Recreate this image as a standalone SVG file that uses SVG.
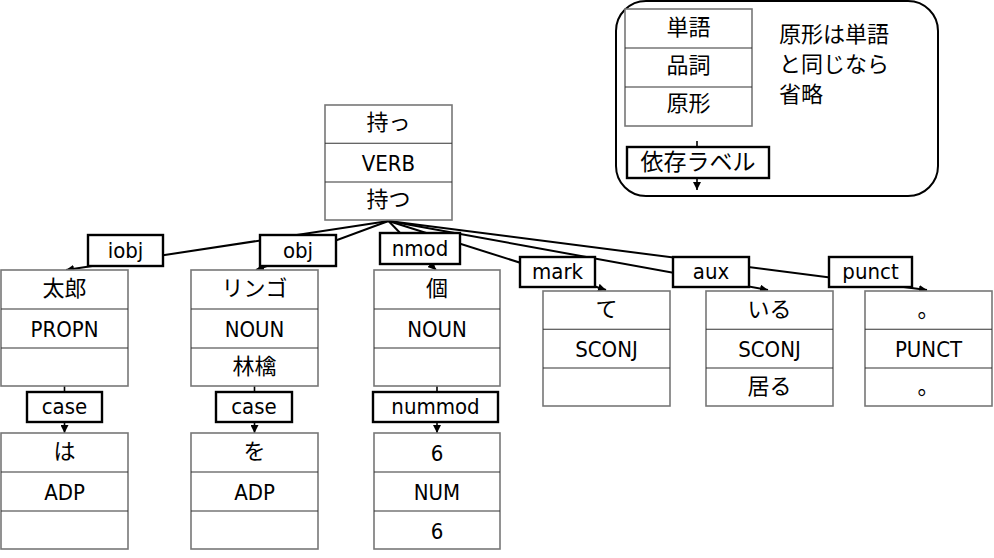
<svg xmlns="http://www.w3.org/2000/svg" width="994" height="558" viewBox="0 0 994 558">
<defs>
<marker id="arr" markerUnits="userSpaceOnUse" markerWidth="9" markerHeight="8" refX="8" refY="4" orient="auto">
<path d="M0,0 L8,4 L0,8 z" fill="#000"/>
</marker>
</defs>
<style>
.box{fill:#fff;stroke:#777;stroke-width:1.6}
.sep{stroke:#333;stroke-width:1.1}
.lab{fill:#fff;stroke:#000;stroke-width:2.4}
.lat{font-family:"DejaVu Sans Condensed","DejaVu Sans","Noto Sans CJK JP",sans-serif;font-stretch:condensed;font-size:22px;text-anchor:middle;fill:#000}
.jp{font-family:"Noto Sans CJK JP","DejaVu Sans",sans-serif;font-size:22px;text-anchor:middle;fill:#000}
.jpl{font-family:"Noto Sans CJK JP","DejaVu Sans",sans-serif;font-size:22px;fill:#000}
.edge{stroke:#000;stroke-width:2;fill:none}
.vedge{stroke:#000;stroke-width:1.6;fill:none}
</style>
<rect width="994" height="558" fill="#fff"/>

<g id="legend">
<rect x="616" y="1" width="322" height="195" rx="30" ry="30" fill="#fff" stroke="#000" stroke-width="2"/>
<rect class="box" x="625" y="9" width="127" height="117"/>
<line class="sep" x1="625" y1="48" x2="752" y2="48"/>
<line class="sep" x1="625" y1="87" x2="752" y2="87"/>
<text class="jp" x="688.5" y="35">単語</text>
<text class="jp" x="688.5" y="73">品詞</text>
<text class="jp" x="688.5" y="111">原形</text>
<line class="vedge" x1="697" y1="141" x2="697" y2="190" marker-end="url(#arr)"/>
<rect class="lab" x="627" y="147" width="142" height="31"/>
<text class="jpl" x="698" y="169.5" text-anchor="middle" style="font-size:23px">依存ラベル</text>
<text class="jpl" x="779" y="42">原形は単語</text>
<text class="jpl" x="779" y="72">と同じなら</text>
<text class="jpl" x="779" y="102">省略</text>
</g>

<g id="connectors">
<line class="edge" x1="388.5" y1="221" x2="66" y2="270" marker-end="url(#arr)"/>
<line class="edge" x1="388.5" y1="221" x2="256" y2="270" marker-end="url(#arr)"/>
<line class="edge" x1="388.5" y1="221" x2="436" y2="270" marker-end="url(#arr)"/>
<line class="edge" x1="388.5" y1="221" x2="606" y2="290" marker-end="url(#arr)"/>
<line class="edge" x1="388.5" y1="221" x2="768" y2="290" marker-end="url(#arr)"/>
<line class="edge" x1="388.5" y1="221" x2="927" y2="290" marker-end="url(#arr)"/>
<line class="vedge" x1="64.5" y1="386" x2="64.5" y2="433" marker-end="url(#arr)"/>
<line class="vedge" x1="254.5" y1="386" x2="254.5" y2="433" marker-end="url(#arr)"/>
<line class="vedge" x1="437" y1="386" x2="437" y2="433" marker-end="url(#arr)"/>
<rect class="lab" x="88" y="235" width="75" height="31"/>
<text class="lat" x="125.5" y="258">iobj</text>
<rect class="lab" x="260" y="235" width="76" height="31"/>
<text class="lat" x="298" y="258">obj</text>
<rect class="lab" x="380" y="233" width="80" height="31"/>
<text class="lat" x="420" y="256">nmod</text>
<rect class="lab" x="520" y="257" width="75" height="30"/>
<text class="lat" x="557.5" y="279">mark</text>
<rect class="lab" x="673" y="257" width="76" height="30"/>
<text class="lat" x="711" y="279">aux</text>
<rect class="lab" x="829" y="257" width="83" height="30"/>
<text class="lat" x="870.5" y="279">punct</text>
<rect class="lab" x="27" y="392" width="75" height="30"/>
<text class="lat" x="64.5" y="414">case</text>
<rect class="lab" x="216" y="392" width="76" height="30"/>
<text class="lat" x="254" y="414">case</text>
<rect class="lab" x="373" y="392" width="125" height="30"/>
<text class="lat" x="435.5" y="414">nummod</text>
</g>

<g id="n-motsu">
<rect class="box" x="325" y="105" width="127" height="115"/>
<line class="sep" x1="325" y1="143.3" x2="452" y2="143.3"/>
<line class="sep" x1="325" y1="182" x2="452" y2="182"/>
<text class="jp" x="388.5" y="130">持っ</text>
<text class="lat" x="388.5" y="171">VERB</text>
<text class="jp" x="388.5" y="207">持つ</text>
</g>

<g id="n-taro">
<rect class="box" x="1" y="270" width="127" height="116"/>
<line class="sep" x1="1" y1="309" x2="128" y2="309"/>
<line class="sep" x1="1" y1="348" x2="128" y2="348"/>
<text class="jp" x="64.5" y="296">太郎</text>
<text class="lat" x="64.5" y="337">PROPN</text>
</g>

<g id="n-ringo">
<rect class="box" x="191" y="270" width="127" height="116"/>
<line class="sep" x1="191" y1="309" x2="318" y2="309"/>
<line class="sep" x1="191" y1="348" x2="318" y2="348"/>
<text class="jp" x="254.5" y="296">リンゴ</text>
<text class="lat" x="254.5" y="337">NOUN</text>
<text class="jp" x="254.5" y="374">林檎</text>
</g>

<g id="n-ko">
<rect class="box" x="374" y="270" width="126" height="116"/>
<line class="sep" x1="374" y1="309" x2="500" y2="309"/>
<line class="sep" x1="374" y1="348" x2="500" y2="348"/>
<text class="jp" x="437" y="296">個</text>
<text class="lat" x="437" y="337">NOUN</text>
</g>

<g id="n-te">
<rect class="box" x="543" y="291" width="127" height="115"/>
<line class="sep" x1="543" y1="329.3" x2="670" y2="329.3"/>
<line class="sep" x1="543" y1="368" x2="670" y2="368"/>
<text class="jp" x="606.5" y="317">て</text>
<text class="lat" x="606.5" y="357">SCONJ</text>
</g>

<g id="n-iru">
<rect class="box" x="706" y="291" width="127" height="115"/>
<line class="sep" x1="706" y1="329.3" x2="833" y2="329.3"/>
<line class="sep" x1="706" y1="368" x2="833" y2="368"/>
<text class="jp" x="769.5" y="317">いる</text>
<text class="lat" x="769.5" y="357">SCONJ</text>
<text class="jp" x="769.5" y="394">居る</text>
</g>

<g id="n-maru">
<rect class="box" x="865" y="291" width="127" height="115"/>
<line class="sep" x1="865" y1="329.3" x2="992" y2="329.3"/>
<line class="sep" x1="865" y1="368" x2="992" y2="368"/>
<text class="jp" x="928.5" y="317">。</text>
<text class="lat" x="928.5" y="357">PUNCT</text>
<text class="jp" x="928.5" y="394">。</text>
</g>

<g id="n-wa">
<rect class="box" x="1" y="433" width="127" height="116"/>
<line class="sep" x1="1" y1="472" x2="128" y2="472"/>
<line class="sep" x1="1" y1="511" x2="128" y2="511"/>
<text class="jp" x="64.5" y="459">は</text>
<text class="lat" x="64.5" y="500">ADP</text>
</g>

<g id="n-wo">
<rect class="box" x="191" y="433" width="127" height="116"/>
<line class="sep" x1="191" y1="472" x2="318" y2="472"/>
<line class="sep" x1="191" y1="511" x2="318" y2="511"/>
<text class="jp" x="254.5" y="459">を</text>
<text class="lat" x="254.5" y="500">ADP</text>
</g>

<g id="n-6">
<rect class="box" x="374" y="433" width="126" height="116"/>
<line class="sep" x1="374" y1="472" x2="500" y2="472"/>
<line class="sep" x1="374" y1="511" x2="500" y2="511"/>
<text class="lat" x="437" y="461">6</text>
<text class="lat" x="437" y="500">NUM</text>
<text class="lat" x="437" y="539">6</text>
</g>
</svg>
